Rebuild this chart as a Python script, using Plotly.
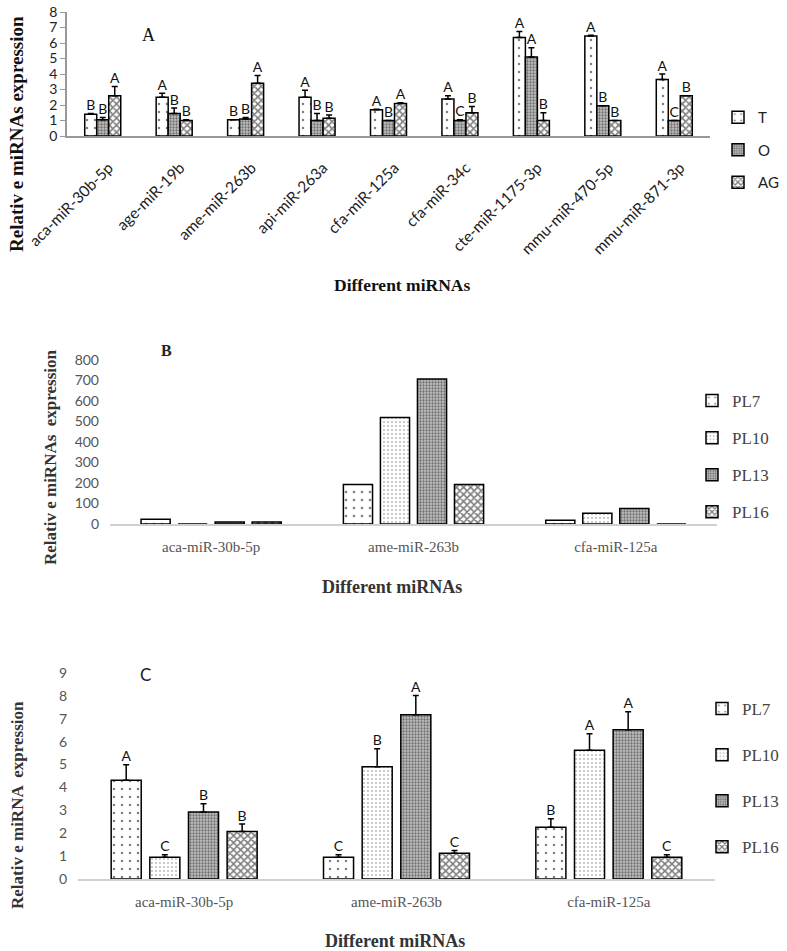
import plotly.graph_objects as go

# ---------------- Data ----------------
cats_A = ["aca-miR-30b-5p", "age-miR-19b", "ame-miR-263b", "api-miR-263a", "cfa-miR-125a",
          "cfa-miR-34c", "cte-miR-1175-3p", "mmu-miR-470-5p", "mmu-miR-871-3p"]
T_vals = [1.4, 2.5, 1.05, 2.5, 1.7, 2.38, 6.35, 6.45, 3.65]
T_err = [0.05, 0.25, 0.0, 0.45, 0.03, 0.22, 0.4, 0.05, 0.35]
O_vals = [1.05, 1.45, 1.1, 1.0, 1.0, 1.0, 5.1, 1.95, 1.0]
O_err = [0.15, 0.35, 0.1, 0.45, 0.0, 0.05, 0.6, 0.0, 0.0]
AG_vals = [2.6, 1.0, 3.4, 1.15, 2.1, 1.5, 1.0, 1.0, 2.6]
AG_err = [0.6, 0.05, 0.5, 0.2, 0.05, 0.4, 0.5, 0.0, 0.0]
T_sig = ["B", "A", "B", "A", "A", "A", "A", "A", "A"]
O_sig = ["B", "B", "B", "B", "B", "C", "A", "B", "C"]
AG_sig = ["A", "B", "A", "B", "A", "B", "B", "B", "B"]

cats_BC = ["aca-miR-30b-5p", "ame-miR-263b", "cfa-miR-125a"]
B_PL7 = [23, 193, 18]
B_PL10 = [0, 519, 52]
B_PL13 = [10, 707, 76]
B_PL16 = [10, 193, 0]

C_PL7 = [4.31, 0.95, 2.26]
C_PL7_err = [0.68, 0.11, 0.37]
C_PL10 = [0.95, 4.9, 5.62]
C_PL10_err = [0.11, 0.79, 0.73]
C_PL13 = [2.93, 7.18, 6.52]
C_PL13_err = [0.36, 0.84, 0.79]
C_PL16 = [2.08, 1.12, 0.95]
C_PL16_err = [0.32, 0.13, 0.11]
C_PL7_sig = ["A", "C", "B"]
C_PL10_sig = ["C", "B", "A"]
C_PL13_sig = ["B", "A", "A"]
C_PL16_sig = ["B", "C", "C"]

# ---------------- Styles ----------------
W, H = 787, 951
SANS = "Lato, Open Sans, sans-serif"
SERIF = "Liberation Serif, Times New Roman, serif"

PAT_SPARSE = dict(shape=".", fgcolor="black", bgcolor="white", size=8, solidity=0.08)
PAT_DENSE = dict(shape=".", fgcolor="black", bgcolor="white", size=4, solidity=0.12)
PAT_GRAY = dict(shape=".", fgcolor="#222222", bgcolor="#c0c0c0", size=3, solidity=0.45)
PAT_CROSS = dict(shape="x", fgcolor="black", bgcolor="white", size=5, solidity=0.55)

fig = go.Figure()


def add_bars(xi, vals, errs, sig, name, pat, width, offset, xa, ya, legend, group, fsize):
    xs = [i + offset for i in xi]
    err_cfg = None
    if errs is not None:
        err_cfg = dict(type="data", array=errs, arrayminus=[0] * len(errs), symmetric=False,
                       color="black", thickness=1.5, width=3, visible=True)
    fig.add_trace(go.Bar(
        x=xs, y=vals, width=width, name=name, xaxis=xa, yaxis=ya,
        marker=dict(color="white", pattern=pat, line=dict(color="black", width=1.5)),
        error_y=err_cfg, legend=legend, legendgroup=group, showlegend=True,
    ))
    if sig is not None:
        tops = [v + e for v, e in zip(vals, errs)]
        fig.add_trace(go.Scatter(
            x=xs, y=tops, mode="text", text=sig, textposition="top center",
            textfont=dict(family=SANS, size=fsize, color="#111"),
            xaxis=xa, yaxis=ya, showlegend=False, hoverinfo="skip", cliponaxis=False,
        ))


# Panel A
idxA = list(range(len(cats_A)))
wA = 0.168
add_bars(idxA, T_vals, T_err, T_sig, "T", PAT_SPARSE, wA, -wA, "x", "y", "legend", "T", 14)
add_bars(idxA, O_vals, O_err, O_sig, "O", PAT_GRAY, wA, 0.0, "x", "y", "legend", "O", 14)
add_bars(idxA, AG_vals, AG_err, AG_sig, "AG", PAT_CROSS, wA, wA, "x", "y", "legend", "AG", 14)

# Panel B
idxBC = list(range(len(cats_BC)))
wB, sB = 0.144, 0.183
add_bars(idxBC, B_PL7, None, None, "PL7", PAT_SPARSE, wB, -1.5 * sB, "x2", "y2", "legend2", "b7", 14)
add_bars(idxBC, B_PL10, None, None, "PL10", PAT_DENSE, wB, -0.5 * sB, "x2", "y2", "legend2", "b10", 14)
add_bars(idxBC, B_PL13, None, None, "PL13", PAT_GRAY, wB, 0.5 * sB, "x2", "y2", "legend2", "b13", 14)
add_bars(idxBC, B_PL16, None, None, "PL16", PAT_CROSS, wB, 1.5 * sB, "x2", "y2", "legend2", "b16", 14)

# Panel C
wC, sC = 0.1415, 0.182
add_bars(idxBC, C_PL7, C_PL7_err, C_PL7_sig, "PL7", PAT_SPARSE, wC, -1.5 * sC, "x3", "y3", "legend3", "c7", 14)
add_bars(idxBC, C_PL10, C_PL10_err, C_PL10_sig, "PL10", PAT_DENSE, wC, -0.5 * sC, "x3", "y3", "legend3", "c10", 14)
add_bars(idxBC, C_PL13, C_PL13_err, C_PL13_sig, "PL13", PAT_GRAY, wC, 0.5 * sC, "x3", "y3", "legend3", "c13", 14)
add_bars(idxBC, C_PL16, C_PL16_err, C_PL16_sig, "PL16", PAT_CROSS, wC, 1.5 * sC, "x3", "y3", "legend3", "c16", 14)


def px_x(p):
    return p / W


def px_y(p):
    return 1 - p / H


fig.update_layout(
    width=W, height=H, margin=dict(l=0, r=0, t=0, b=0, autoexpand=False),
    paper_bgcolor="white", plot_bgcolor="white", barmode="overlay",
    xaxis=dict(domain=[px_x(67), px_x(710)], range=[-0.5, 8.5], tickvals=idxA, ticktext=cats_A,
               tickangle=-45, showline=True, linecolor="#999999", linewidth=1.5, ticks="",
               showgrid=False, zeroline=False, anchor="y", automargin=False,
               ticklabelstandoff=15, ticklabelshift=6,
               tickfont=dict(family=SANS, size=15.5, color="#222")),
    yaxis=dict(domain=[px_y(136), px_y(12)], range=[0, 8], dtick=1, showline=True,
               linecolor="#999999", linewidth=1.5, ticks="outside", ticklen=5, tickcolor="#999999",
               showgrid=False, zeroline=False, anchor="x", automargin=False,
               ticklabeloverflow="allow",
               tickfont=dict(family=SANS, size=14, color="#222")),
    xaxis2=dict(domain=[px_x(110), px_x(717)], range=[-0.5, 2.5], tickvals=idxBC, ticktext=cats_BC,
                showline=True, linecolor="#d0d0d0", linewidth=1.5, ticks="", showgrid=False,
                zeroline=False, anchor="y2", ticklabelstandoff=8, automargin=False,
                tickfont=dict(family=SERIF, size=15, color="#555")),
    yaxis2=dict(domain=[px_y(524), px_y(360)], range=[0, 800], dtick=100, showline=False,
                showgrid=False, zeroline=False, anchor="x2", ticklabelstandoff=10, automargin=False,
                tickfont=dict(family=SANS, size=14, color="#555")),
    xaxis3=dict(domain=[px_x(78), px_x(715)], range=[-0.5, 2.5], tickvals=idxBC, ticktext=cats_BC,
                showline=True, linecolor="#d0d0d0", linewidth=1.5, ticks="", showgrid=False,
                zeroline=False, anchor="y3", ticklabelstandoff=8, automargin=False,
                tickfont=dict(family=SERIF, size=15, color="#555")),
    yaxis3=dict(domain=[px_y(879), px_y(673)], range=[0, 9], dtick=1, showline=False,
                showgrid=False, zeroline=False, anchor="x3", ticklabelstandoff=10, automargin=False,
                tickfont=dict(family=SANS, size=14, color="#555")),
    legend=dict(x=px_x(718), y=px_y(101), xanchor="left", yanchor="top", tracegroupgap=10,
                font=dict(family=SANS, size=15, color="#222"), itemwidth=30,
                bgcolor="rgba(0,0,0,0)"),
    legend2=dict(x=px_x(692), y=px_y(383), xanchor="left", yanchor="top", tracegroupgap=12,
                 font=dict(family=SERIF, size=17, color="#444"), itemwidth=30,
                 bgcolor="rgba(0,0,0,0)"),
    legend3=dict(x=px_x(702), y=px_y(691), xanchor="left", yanchor="top", tracegroupgap=21,
                 font=dict(family=SERIF, size=17, color="#444"), itemwidth=30,
                 bgcolor="rgba(0,0,0,0)"),
    showlegend=True,
)

ann = [
    dict(text="A", x=px_x(148), y=px_y(35), font=dict(family=SERIF, size=18, color="#111")),
    dict(text="<b>B</b>", x=px_x(166), y=px_y(351), font=dict(family=SERIF, size=16, color="#222")),
    dict(text="C", x=px_x(145), y=px_y(674), font=dict(family=SANS, size=17, color="#222")),
    dict(text="<b>Different miRNAs</b>", x=px_x(402), y=px_y(285), font=dict(family=SERIF, size=17.5, color="#111")),
    dict(text="<b>Different miRNAs</b>", x=px_x(392), y=px_y(587), font=dict(family=SERIF, size=18, color="#333")),
    dict(text="<b>Different miRNAs</b>", x=px_x(395), y=px_y(941), font=dict(family=SERIF, size=18, color="#333")),
    dict(text="<b>Relativ e miRNAs expression</b>", x=px_x(16), y=px_y(134), textangle=-90,
         font=dict(family=SERIF, size=19, color="#111")),
    dict(text="<b>Relativ e miRNAs  expression</b>", x=px_x(50), y=px_y(457), textangle=-90,
         font=dict(family=SERIF, size=17, color="#333")),
    dict(text="<b>Relativ e miRNA  expression</b>", x=px_x(17), y=px_y(805), textangle=-90,
         font=dict(family=SERIF, size=17, color="#333")),
]
for a in ann:
    a.update(xref="paper", yref="paper", showarrow=False, xanchor="center", yanchor="middle")
fig.update_layout(annotations=ann)

# remove the page's default body margin so the figure fills the window exactly
fig.write_html("out.html", config={"displayModeBar": False},
               post_script="document.body.style.margin='0';")
